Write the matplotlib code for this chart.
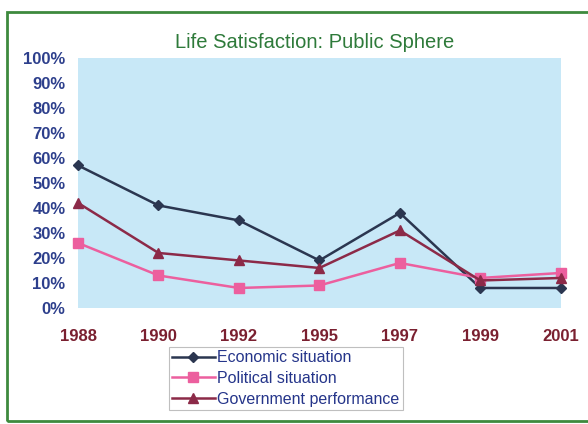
# Life satisfaction line chart
import matplotlib

matplotlib.use("Agg")
import matplotlib.pyplot as plt
from matplotlib.patches import Rectangle
from matplotlib.ticker import PercentFormatter

years = ["1988", "1990", "1992", "1995", "1997", "1999", "2001"]
economic = [57, 41, 35, 19, 38, 8, 8]
political = [26, 13, 8, 9, 18, 12, 14]
government = [42, 22, 19, 16, 31, 11, 12]

plt.rcParams["font.family"] = ["Liberation Sans", "DejaVu Sans"]

fig = plt.figure(figsize=(5.88, 4.24), dpi=100)
ax = fig.add_axes([0.1327, 0.2736, 0.821, 0.59])

# green frame around the whole chart
fig.patches.append(Rectangle((0.012, 0.006), 1.0, 0.966, transform=fig.transFigure,
                             fill=False, edgecolor="#3d8a3d", linewidth=2))

x = range(len(years))
ax.plot(x, economic, color="#2b3650", marker="D", markersize=5, linewidth=1.8,
        label="Economic situation", clip_on=False, zorder=3)
ax.plot(x, political, color="#ec5f9e", marker="s", markersize=7, linewidth=1.8,
        label="Political situation", clip_on=False, zorder=3)
ax.plot(x, government, color="#8c2a48", marker="^", markersize=7, linewidth=1.8,
        label="Government performance", clip_on=False, zorder=3)

ax.set_facecolor("#c8e8f7")
ax.set_xlim(0, len(years) - 1)
ax.set_ylim(0, 100)
ax.set_yticks(range(0, 101, 10))
ax.yaxis.set_major_formatter(PercentFormatter(decimals=0))
ax.set_xticks(x)
ax.set_xticklabels(years)
ax.tick_params(axis="y", length=0, pad=9, labelsize=12, labelcolor="#2d3f8c")
ax.tick_params(axis="x", length=0, pad=15, labelsize=12, labelcolor="#7a2030")
for lbl in ax.get_xticklabels() + ax.get_yticklabels():
    lbl.set_fontweight("bold")
for s in ax.spines.values():
    s.set_visible(False)

fig.text(0.535, 0.9, "Life Satisfaction: Public Sphere", ha="center", va="center",
         fontsize=14.5, color="#2e7a3a")

leg = ax.legend(loc="upper center", bbox_to_anchor=(0.43, -0.125), ncol=1,
                fontsize=11.5, frameon=True, fancybox=False, handlelength=2.7,
                handletextpad=0.15, borderpad=0.2, labelspacing=0.35)
leg.get_frame().set_edgecolor("#b0b0b0")
leg.get_frame().set_linewidth(0.8)
for t in leg.get_texts():
    t.set_color("#25358a")

fig.savefig("out.png", dpi=100)
